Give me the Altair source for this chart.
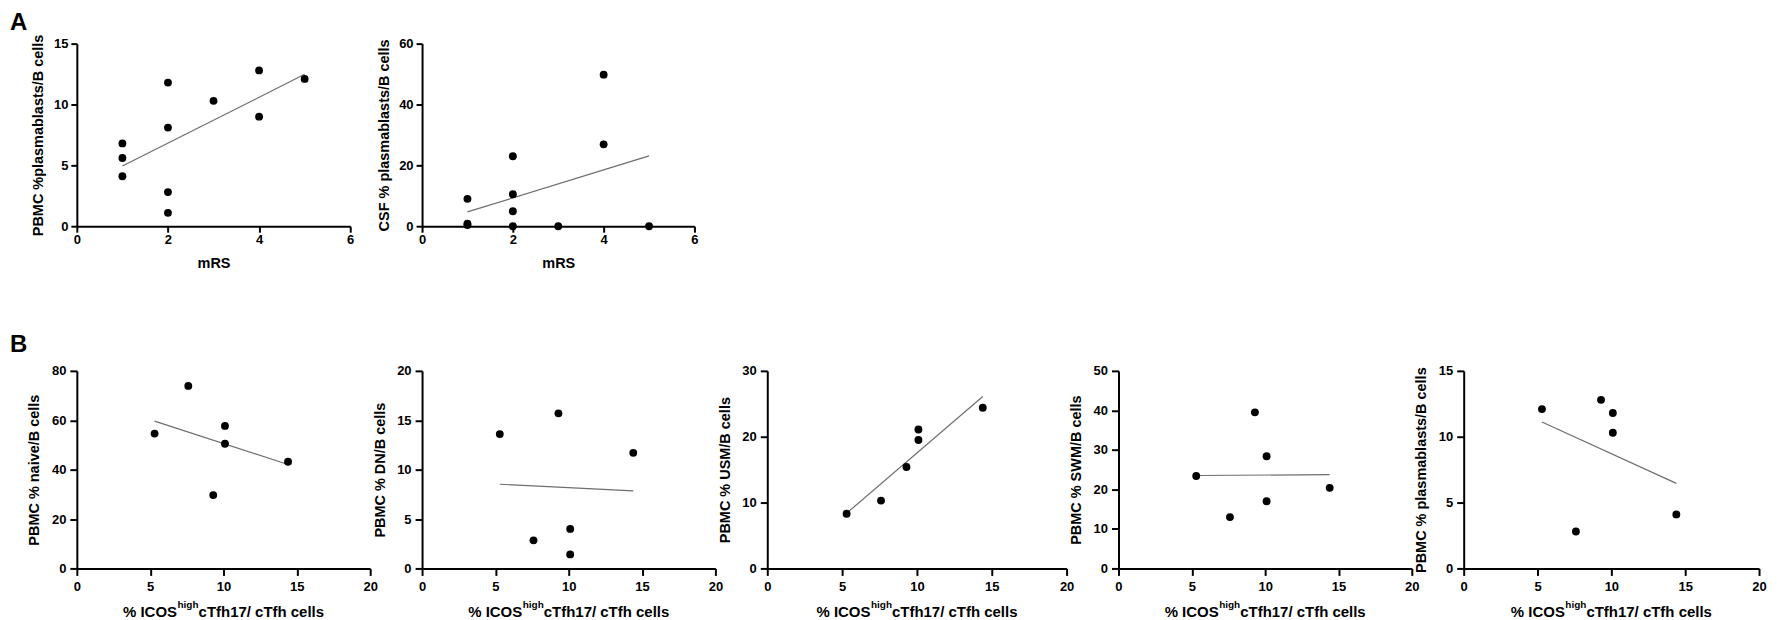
import altair as alt
import pandas as pd

FONT = "Liberation Sans, Arial, Helvetica, sans-serif"

# ---------------- Panel A data ----------------
mrs = [1, 1, 1, 2, 2, 2, 2, 3, 4, 4, 5]
pbmc_plasmablasts_a = [6.8, 5.6, 4.1, 11.8, 8.1, 2.8, 1.1, 10.3, 12.8, 9.0, 12.1]
csf_plasmablasts = [9.0, 0.8, 0.4, 23.0, 10.5, 4.9, 0.0, 0.0, 49.8, 26.9, 0.0]

# ---------------- Panel B data ----------------
icos_high_ctfh17 = [5.3, 7.6, 9.3, 10.1, 10.1, 14.4]
naive = [54.6, 73.9, 29.7, 57.7, 50.5, 43.2]
dn = [13.6, 2.84, 15.7, 4.0, 1.42, 11.7]
usm = [8.3, 10.3, 15.4, 21.1, 19.5, 24.4]
swm = [23.4, 13.0, 39.5, 28.4, 17.0, 20.4]
plasmablasts_b = [12.1, 2.8, 12.8, 11.8, 10.3, 4.1]

a_x_ticks = [0, 2, 4, 6]
b_x_ticks = [0, 5, 10, 15, 20]

A_H = 183
B_H = 198


def text_layer(txt, x, y, size, align="left", baseline="alphabetic"):
    return alt.Chart(pd.DataFrame({"t": [txt]})).mark_text(
        align=align, baseline=baseline, fontSize=size, fontWeight="bold",
        font=FONT, color="black"
    ).encode(x=alt.value(x), y=alt.value(y), text="t:N")


def panel(xs, ys, width, height, xdom, xticks, ydom, yticks, ytitle, kind,
          letter=None, letter_y=-33):
    df = pd.DataFrame({"x": xs, "y": ys})
    if kind == "A":
        xaxis = alt.Axis(values=xticks, title="mRS", tickSize=6, labelPadding=1,
                         titlePadding=10)
        yaxis = alt.Axis(values=yticks, title=ytitle, tickSize=6, labelPadding=3,
                         titlePadding=7.5)
    else:
        xaxis = alt.Axis(values=xticks, title="", tickSize=7, labelPadding=5)
        yaxis = alt.Axis(values=yticks, title=ytitle, tickSize=7, labelPadding=4,
                         titlePadding=9.5)
    x = alt.X("x:Q", scale=alt.Scale(domain=xdom, nice=False, zero=False), axis=xaxis)
    y = alt.Y("y:Q", scale=alt.Scale(domain=ydom, nice=False), axis=yaxis)
    base = alt.Chart(df)
    line = base.transform_regression("x", "y").mark_line(
        color="#6e6e6e", strokeWidth=1.2).encode(x=x, y=y)
    pts = base.mark_circle(size=62, color="black", opacity=1).encode(x=x, y=y)
    layers = [line, pts]
    if kind == "B":
        cx = width / 2.0
        start = cx - 100.8
        x1 = start + 54.2
        layers.append(text_layer("% ICOS", x1, height + 49, 15, align="right"))
        layers.append(text_layer("high", x1 + 0.5, height + 40, 10))
        layers.append(text_layer("cTfh17/ cTfh cells", x1 + 21.6, height + 49, 15))
    if letter is not None:
        layers.append(text_layer(letter, -67, letter_y, 24, baseline="top"))
    return alt.layer(*layers).properties(width=width, height=height)


a1 = panel(mrs, pbmc_plasmablasts_a, 274, A_H, [0, 6], a_x_ticks, [0, 15],
           [0, 5, 10, 15], "PBMC %plasmablasts/B cells", "A", letter="A",
           letter_y=-33)
a2 = panel(mrs, csf_plasmablasts, 273, A_H, [0, 6], a_x_ticks, [0, 60],
           [0, 20, 40, 60], "CSF % plasmablasts/B cells", "A")

b1 = panel(icos_high_ctfh17, naive, 294, B_H, [0, 20], b_x_ticks, [0, 80],
           [0, 20, 40, 60, 80], "PBMC % naive/B cells", "B", letter="B",
           letter_y=-38)
b2 = panel(icos_high_ctfh17, dn, 294, B_H, [0, 20], b_x_ticks, [0, 20],
           [0, 5, 10, 15, 20], "PBMC % DN/B cells", "B")
b3 = panel(icos_high_ctfh17, usm, 300, B_H, [0, 20], b_x_ticks, [0, 30],
           [0, 10, 20, 30], "PBMC %  USM/B cells", "B")
b4 = panel(icos_high_ctfh17, swm, 294, B_H, [0, 20], b_x_ticks, [0, 50],
           [0, 10, 20, 30, 40, 50], "PBMC % SWM/B cells", "B")
b5 = panel(icos_high_ctfh17, plasmablasts_b, 296, B_H, [0, 20], b_x_ticks, [0, 15],
           [0, 5, 10, 15], "PBMC % plasmablasts/B cells", "B")


def blank():
    return alt.Chart(pd.DataFrame({"v": [0]})).mark_point(opacity=0).encode(
        x=alt.X("v:Q", axis=None), y=alt.Y("v:Q", axis=None)
    ).properties(width=1, height=1)


chart = alt.concat(
    a1, a2, blank(), blank(), blank(),
    b1, b2, b3, b4, b5,
    columns=5,
    spacing=alt.RowColnumber(row=145, column=52),
    bounds="flush",
    align="each",
).properties(
    padding={"left": 2, "top": 2, "right": 2, "bottom": 0}, background="white"
).configure_view(
    strokeWidth=0
).configure_axis(
    grid=False,
    domainColor="black", domainWidth=2,
    tickColor="black", tickWidth=2,
    labelFont=FONT, labelFontSize=13, labelFontWeight="bold", labelColor="black",
    labelFlush=False,
    titleFont=FONT, titleFontSize=14.5, titleFontWeight="bold", titleColor="black",
)

chart.save("out.html", embed_options={"renderer": "svg", "actions": False})
